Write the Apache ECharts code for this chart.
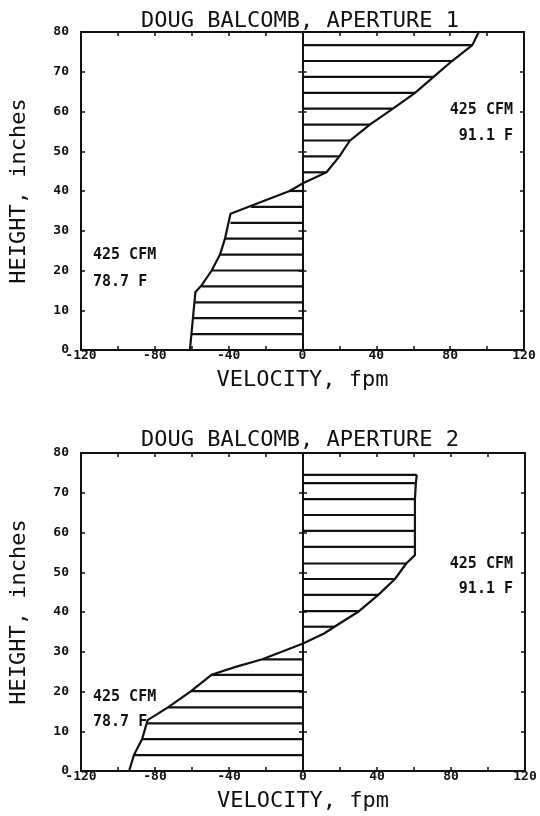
<!DOCTYPE html>
<html><head><meta charset="utf-8">
<script src="https://cdn.jsdelivr.net/npm/echarts@6/dist/echarts.min.js"></script>
<style>html,body{margin:0;padding:0;background:#fff}#c{width:540px;height:816px}</style>
</head><body><div id="c"></div>
<script>
// ---- texts ----
const chartTitles = ['DOUG BALCOMB, APERTURE 1', 'DOUG BALCOMB, APERTURE 2'];
const xAxisName = 'VELOCITY, fpm';
const yAxisName = 'HEIGHT, inches';
const xLabelValues = [-120, -80, -40, 0, 40, 80, 120];
const flowNote = '425 CFM';
const hotNote = '91.1 F';
const coldNote = '78.7 F';

// ---- Aperture 1 : velocity profile (fpm) vs height (inches) ----
const ap1ProfileVelocity = [95.5, 92, 81, 71, 61, 49, 36.5, 25.7, 20, 13, 0.5, -7, -39, -42, -44.7, -49.2, -54.6, -58, -61];
const ap1ProfileHeight   = [80, 76.7, 72.7, 68.7, 64.7, 60.7, 56.7, 52.7, 48.7, 44.7, 42, 40, 34.3, 28, 24, 20, 16.3, 14.6, 0];
// hatching lines
const ap1HatchHeight   = [80, 76.7, 72.7, 68.7, 64.7, 60.7, 56.7, 52.7, 48.7, 44.7, 40, 36, 32, 28, 24, 20, 16, 12, 8, 4];
const ap1HatchVelocity = [95.5, 92, 81, 71, 61, 49, 36.5, 25.7, 20, 13, -7, -28, -39, -42, -44.7, -49.2, -54.6, -58.2, -59.4, -60.2];

// ---- Aperture 2 ----
const ap2ProfileVelocity = [61.5, 61, 60.5, 60.5, 60.5, 60.5, 60.5, 55.8, 49.7, 40.7, 30.3, 17, 11.4, 0, -9.4, -22, -36.4, -49.5, -60.5, -73, -84, -87, -91.4, -94];
const ap2ProfileHeight   = [74.5, 72.4, 68.4, 64.4, 60.4, 56.4, 54.3, 52.2, 48.3, 44.3, 40.2, 36.3, 34.6, 32.1, 30.4, 28.1, 26.2, 24.2, 20.1, 16, 12.8, 8, 4, 0];
const ap2HatchHeight   = [74.5, 72.4, 68.4, 64.4, 60.4, 56.4, 52.2, 48.3, 44.3, 40.2, 36.3, 28.1, 24.2, 20.1, 16, 12, 8, 4];
const ap2HatchVelocity = [61.5, 61, 60.5, 60.5, 60.5, 60.5, 55.8, 49.7, 40.7, 30.3, 17, -22, -49.5, -60.5, -73, -84.5, -87, -91.4];

// ---- build ----
const INK = '#111';
const tickFont = {fontFamily: '"DejaVu Sans Mono"', fontWeight: 'bold', fontSize: 13, color: INK};
const nameFont = {fontFamily: '"DejaVu Sans Mono"', fontSize: 22, color: INK, lineHeight: 23};
const noteFont = 'bold 15px "DejaVu Sans Mono"';

const grids = [
  {left: 81, top: 32, width: 443, height: 318},
  {left: 81, top: 453, width: 444, height: 318}
];

const pairs = (xs, ys) => xs.map((v, i) => [v, ys[i]]);

const xAxes = [], yAxes = [], series = [];
grids.forEach((g, gi) => {
  const xb = xAxes.length;
  xAxes.push({
    gridIndex: gi, type: 'value', position: 'bottom', min: -120, max: 120, interval: 20,
    name: xAxisName, nameLocation: 'middle', nameGap: 19, nameTextStyle: nameFont,
    axisLine: {onZero: false, lineStyle: {color: INK, width: 2}},
    axisTick: {inside: true, length: 4, lineStyle: {color: INK, width: 1.5}},
    axisLabel: Object.assign({margin: 0, lineHeight: 12,
      formatter: v => xLabelValues.includes(v) ? String(v) : ''}, tickFont),
    splitLine: {show: false}
  });
  xAxes.push({
    gridIndex: gi, type: 'value', position: 'top', min: -120, max: 120, interval: 20,
    axisLine: {onZero: false, lineStyle: {color: INK, width: 2}},
    axisTick: {inside: true, length: 4, lineStyle: {color: INK, width: 1.5}},
    axisLabel: {show: false}, splitLine: {show: false}
  });
  const yl = yAxes.length;
  yAxes.push({
    gridIndex: gi, type: 'value', position: 'left', min: 0, max: 80, interval: 10,
    name: yAxisName, nameLocation: 'middle', nameGap: 50, nameRotate: 90, nameTextStyle: nameFont,
    axisLine: {onZero: false, lineStyle: {color: INK, width: 2}},
    axisTick: {inside: true, length: 4, lineStyle: {color: INK, width: 1.5}},
    axisLabel: Object.assign({margin: 12}, tickFont),
    splitLine: {show: false}
  });
  yAxes.push({
    gridIndex: gi, type: 'value', position: 'right', min: 0, max: 80, interval: 10,
    axisLine: {onZero: false, lineStyle: {color: INK, width: 2}},
    axisTick: {inside: true, length: 4, lineStyle: {color: INK, width: 1.5}},
    axisLabel: {show: false}, splitLine: {show: false}
  });
  // zero line with ticks on both sides
  [false, true].forEach(inside => {
    yAxes.push({
      gridIndex: gi, type: 'value', position: 'left', min: 0, max: 80, interval: 10,
      axisLine: {onZero: true, onZeroAxisIndex: xb, lineStyle: {color: INK, width: 2}},
      axisTick: {inside: inside, length: 4, lineStyle: {color: INK, width: 1.5}},
      axisLabel: {show: false}, splitLine: {show: false}
    });
  });

  const prof = gi === 0 ? pairs(ap1ProfileVelocity, ap1ProfileHeight) : pairs(ap2ProfileVelocity, ap2ProfileHeight);
  const hatch = gi === 0 ? pairs(ap1HatchVelocity, ap1HatchHeight) : pairs(ap2HatchVelocity, ap2HatchHeight);
  series.push({
    type: 'custom', xAxisIndex: xb, yAxisIndex: yl, data: hatch,
    encode: {x: 0, y: 1},
    renderItem: (params, api) => {
      const h = api.value(1), v = api.value(0);
      const p0 = api.coord([0, h]);
      const p1 = api.coord([v, h]);
      return {type: 'line', shape: {x1: p0[0], y1: p0[1], x2: p1[0], y2: p1[1]},
              style: {stroke: INK, lineWidth: 2.2}};
    },
    silent: true
  });
  series.push({
    type: 'line', xAxisIndex: xb, yAxisIndex: yl, data: prof,
    showSymbol: false, symbol: 'none',
    lineStyle: {color: INK, width: 2.2}, silent: true
  });
});

const noteText = (x, y, text, align) => ({
  type: 'text', x: x, y: y,
  style: {text: text, font: noteFont, fill: INK, align: align, verticalAlign: 'middle'}
});

const option = {
  backgroundColor: '#fff',
  animation: false,
  title: [
    {text: chartTitles[0], left: 300, top: 10, textAlign: 'center', padding: 0,
     textStyle: Object.assign({fontWeight: 'normal'}, nameFont)},
    {text: chartTitles[1], left: 300, top: 429, textAlign: 'center', padding: 0,
     textStyle: Object.assign({fontWeight: 'normal'}, nameFont)}
  ],
  grid: grids,
  xAxis: xAxes,
  yAxis: yAxes,
  series: series,
  graphic: [
    noteText(513, 110, flowNote, 'right'),
    noteText(513, 136, hotNote, 'right'),
    noteText(93, 255, flowNote, 'left'),
    noteText(93, 282, coldNote, 'left'),
    noteText(513, 564, flowNote, 'right'),
    noteText(513, 589, hotNote, 'right'),
    noteText(93, 697, flowNote, 'left'),
    noteText(93, 722, coldNote, 'left')
  ]
};

const chart = echarts.init(document.getElementById('c'), null, {renderer: 'canvas'});
chart.setOption(option);
</script>
</body></html>
